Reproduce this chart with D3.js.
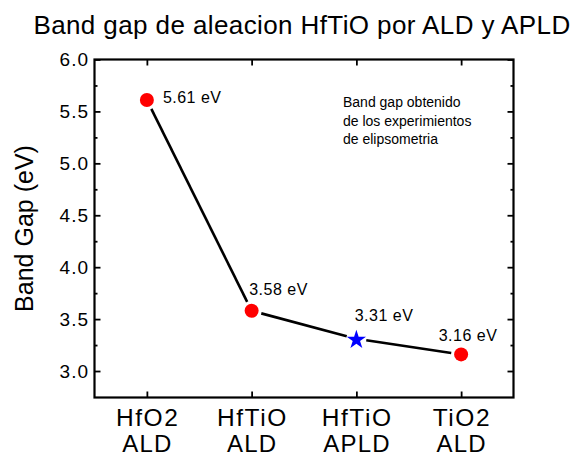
<!DOCTYPE html>
<html><head><meta charset="utf-8">
<script src="https://cdn.jsdelivr.net/npm/d3@7"></script>
<style>body{margin:0;background:#fff}svg{display:block}text{font-family:"Liberation Sans",Arial,sans-serif}</style>
</head><body>
<svg id="c" width="576" height="457"></svg>
<script>
const categories = ["HfO2", "HfTiO", "HfTiO", "TiO2"];
const methods = ["ALD", "ALD", "APLD", "ALD"];
const bandGap = [5.61, 3.58, 3.31, 3.16];
const markers = ["circle", "circle", "star", "circle"];
const valueLabels = ["5.61 eV", "3.58 eV", "3.31 eV", "3.16 eV"];
const yTicks = [3.0, 3.5, 4.0, 4.5, 5.0, 5.5, 6.0];
const yMinor = [3.25, 3.75, 4.25, 4.75, 5.25, 5.75];
const title = "Band gap de aleacion HfTiO por ALD y APLD";
const yTitle = "Band Gap (eV)";
const note = ["Band gap obtenido", "de los experimientos", "de elipsometria"];

const svg = d3.select("#c");
const L = 94.5, R = 513.5, T = 59.5, B = 397.5;
const x = d3.scaleLinear().domain([0.5, 4.5]).range([L, R]);
const y = d3.scaleLinear().domain([2.745, 6.0]).range([B, T]);
const idx = d3.range(bandGap.length);

// title
svg.append("text").attr("x", 302).attr("y", 34).attr("text-anchor", "middle")
  .attr("font-size", 26).attr("letter-spacing", 0.4).text(title);
// y title
svg.append("text").attr("transform", "translate(33,228.5) rotate(-90)")
  .attr("text-anchor", "middle").attr("font-size", 25).text(yTitle);

// axes (ticks inward)
const g = svg.append("g");
const ax = (gen, tr) => g.append("g").attr("transform", tr).call(gen)
  .call(s => s.select(".domain").remove());
ax(d3.axisLeft(y).tickValues(yTicks).tickSize(-6).tickPadding(5.5).tickFormat(d3.format(".1f")), `translate(${L},0)`);
ax(d3.axisLeft(y).tickValues(yMinor).tickSize(-3).tickFormat(""), `translate(${L},0)`);
ax(d3.axisRight(y).tickValues(yTicks).tickSize(-6).tickFormat(""), `translate(${R},0)`);
ax(d3.axisRight(y).tickValues(yMinor).tickSize(-3).tickFormat(""), `translate(${R},0)`);
ax(d3.axisBottom(x).tickValues(idx.map(i => i + 1)).tickSize(-6).tickFormat(""), `translate(0,${B})`);
ax(d3.axisTop(x).tickValues(idx.map(i => i + 1)).tickSize(-6).tickFormat(""), `translate(0,${T})`);
g.selectAll(".tick line").attr("stroke", "#000").attr("stroke-width", 1.8);
g.selectAll(".tick text").attr("font-size", 19).attr("fill", "#000").attr("letter-spacing", 1)
  .attr("font-family", '"Liberation Sans",Arial,sans-serif');

svg.append("rect").attr("x", L).attr("y", T).attr("width", R - L).attr("height", B - T)
  .attr("fill", "none").attr("stroke", "#000").attr("stroke-width", 2.2);

// category labels
idx.forEach(i => {
  svg.append("text").attr("x", x(i + 1) + 0.8).attr("y", 426).attr("text-anchor", "middle")
    .attr("font-size", 24.5).attr("letter-spacing", 1.6).text(categories[i]);
  svg.append("text").attr("x", x(i + 1) + 0.6).attr("y", 451.5).attr("text-anchor", "middle")
    .attr("font-size", 24).attr("letter-spacing", 1.2).text(methods[i]);
});

// line segments with gaps near markers
const gap = 10;
for (let i = 0; i < bandGap.length - 1; i++) {
  const x1 = x(i + 1), y1 = y(bandGap[i]), x2 = x(i + 2), y2 = y(bandGap[i + 1]);
  const len = Math.hypot(x2 - x1, y2 - y1), ux = (x2 - x1) / len, uy = (y2 - y1) / len;
  svg.append("line").attr("x1", x1 + ux * gap).attr("y1", y1 + uy * gap)
    .attr("x2", x2 - ux * gap).attr("y2", y2 - uy * gap)
    .attr("stroke", "#000").attr("stroke-width", 2.6);
}

// markers
idx.forEach(i => {
  if (markers[i] === "star") {
    svg.append("path").attr("d", d3.symbol(d3.symbolStar, 115)())
      .attr("transform", `translate(${x(i + 1)},${y(bandGap[i]) + 1})`).attr("fill", "#0000ff");
  } else {
    svg.append("circle").attr("cx", x(i + 1)).attr("cy", y(bandGap[i])).attr("r", 7).attr("fill", "#ff0000");
  }
});

// value labels
const lblPos = [[16, 3.5], [-2.4, -16], [-1.7, -18], [-22.4, -13.6]];
idx.forEach(i => {
  svg.append("text").attr("x", x(i + 1) + lblPos[i][0]).attr("y", y(bandGap[i]) + lblPos[i][1])
    .attr("font-size", 16).attr("letter-spacing", 0.5).text(valueLabels[i]);
});

// note
note.forEach((t, k) => svg.append("text").attr("x", 343).attr("y", 106.7 + k * 18.8)
  .attr("font-size", 14).text(t));
</script>
</body></html>
